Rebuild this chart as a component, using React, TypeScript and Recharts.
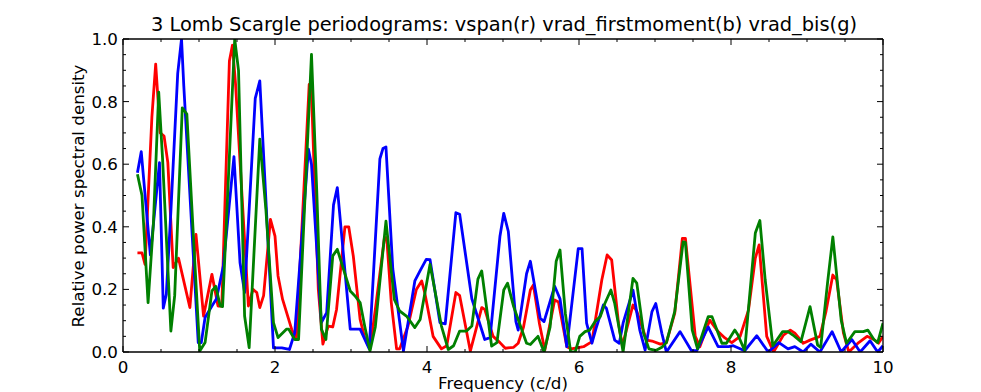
import React from 'react';
import { LineChart, Line, XAxis, YAxis } from 'recharts';

// frequency (c/d) / relative power
const redFreq = [
  0.19, 0.25, 0.29, 0.38, 0.43, 0.49, 0.54, 0.59, 0.66, 0.73, 0.88, 0.96, 1.06, 1.17, 1.25, 1.3, 1.4, 1.44, 1.48, 1.65,
  1.71, 1.76, 1.8, 1.85, 1.94, 2.0, 2.04, 2.1, 2.18, 2.22, 2.28, 2.45, 2.48, 2.57, 2.63, 2.7, 2.76, 2.81, 2.92, 2.97,
  3.03, 3.12, 3.18, 3.25, 3.32, 3.44, 3.47, 3.53, 3.6, 3.64, 3.75, 3.86, 3.93, 3.97, 4.08, 4.19, 4.26, 4.38, 4.43, 4.57,
  4.72, 4.76, 4.87, 4.96, 5.03, 5.14, 5.2, 5.27, 5.36, 5.4, 5.48, 5.55, 5.68, 5.73, 5.84, 5.9, 6.06, 6.17, 6.3, 6.37,
  6.43, 6.52, 6.57, 6.71, 6.76, 6.89, 6.96, 7.07, 7.15, 7.26, 7.36, 7.4, 7.53, 7.59, 7.72, 7.83, 7.92, 8.01, 8.12, 8.23,
  8.32, 8.37, 8.47, 8.56, 8.69, 8.78, 8.84, 8.95, 9.04, 9.17, 9.25, 9.34, 9.39, 9.48, 9.55, 9.68, 9.79, 9.88, 9.94, 10.0,
];
const redVals = [
  0.317, 0.317, 0.28, 0.75, 0.92, 0.7, 0.69, 0.605, 0.27, 0.3, 0.142, 0.376, 0.115, 0.248, 0.147, 0.147, 0.93, 0.98, 0.86, 0.147,
  0.2, 0.19, 0.142, 0.18, 0.424, 0.37, 0.243, 0.168, 0.104, 0.072, 0.04, 0.855, 0.83, 0.2, 0.025, 0.083, 0.08, 0.136, 0.4, 0.4,
  0.307, 0.104, 0.046, 0.01, 0.136, 0.365, 0.365, 0.158, 0.01, 0.01, 0.083, 0.2, 0.227, 0.19, 0.05, 0.01, 0.02, 0.19, 0.18, 0.003,
  0.142, 0.136, 0.05, 0.03, 0.012, 0.015, 0.028, 0.08, 0.198, 0.214, 0.09, 0.006, 0.166, 0.16, 0.017, 0.01, 0.017, 0.033, 0.23, 0.31,
  0.294, 0.092, 0.02, 0.15, 0.13, 0.038, 0.035, 0.025, 0.03, 0.124, 0.363, 0.363, 0.05, 0.017, 0.102, 0.065, 0.045, 0.03, 0.05, 0.134,
  0.3, 0.342, 0.05, 0.0, 0.054, 0.07, 0.06, 0.028, 0.038, 0.05, 0.13, 0.246, 0.23, 0.06, 0.0, 0.03, 0.05, 0.04, 0.028, 0.05,
];

const blueFreq = [
  0.19, 0.24, 0.36, 0.48, 0.53, 0.57, 0.63, 0.72, 0.77, 0.8, 0.99, 1.03, 1.08, 1.17, 1.23, 1.32, 1.46, 1.54, 1.6, 1.74,
  1.8, 1.98, 2.09, 2.19, 2.26, 2.44, 2.48, 2.61, 2.68, 2.77, 2.82, 2.99, 3.12, 3.24, 3.38, 3.42, 3.46, 3.55, 3.69, 3.84,
  3.91, 3.99, 4.04, 4.17, 4.24, 4.38, 4.43, 4.59, 4.76, 4.83, 4.96, 5.01, 5.07, 5.17, 5.2, 5.31, 5.36, 5.49, 5.54, 5.68,
  5.75, 5.84, 5.99, 6.04, 6.1, 6.17, 6.23, 6.32, 6.36, 6.47, 6.53, 6.58, 6.71, 6.8, 6.87, 6.96, 7.01, 7.09, 7.15, 7.33,
  7.48, 7.55, 7.7, 7.83, 7.97, 8.03, 8.18, 8.34, 8.49, 8.63, 8.75, 8.84, 8.95, 9.05, 9.17, 9.33, 9.45, 9.59, 9.7, 9.83,
  9.93, 10.0,
];
const blueVals = [
  0.573, 0.64, 0.31, 0.605, 0.14, 0.185, 0.45, 0.89, 1.0, 0.85, 0.03, 0.03, 0.11, 0.147, 0.17, 0.275, 0.624, 0.285, 0.19, 0.81,
  0.866, 0.013, 0.013, 0.008, 0.062, 0.648, 0.6, 0.094, 0.126, 0.47, 0.525, 0.073, 0.073, 0.01, 0.617, 0.65, 0.655, 0.265, 0.003, 0.227,
  0.26, 0.296, 0.295, 0.094, 0.09, 0.445, 0.44, 0.17, 0.04, 0.046, 0.37, 0.443, 0.385, 0.097, 0.07, 0.25, 0.29, 0.108, 0.097, 0.21,
  0.17, 0.017, 0.33, 0.33, 0.092, 0.028, 0.08, 0.15, 0.14, 0.038, 0.028, 0.092, 0.198, 0.07, 0.006, 0.129, 0.155, 0.06, 0.0, 0.065,
  0.004, 0.004, 0.08, 0.017, 0.017, 0.02, 0.004, 0.052, 0.0, 0.03, 0.01, 0.017, 0.0, 0.025, 0.0, 0.065, 0.0, 0.04, 0.0, 0.036,
  0.0, 0.02,
];

const greenFreq = [
  0.19, 0.25, 0.33, 0.4, 0.47, 0.52, 0.63, 0.68, 0.78, 0.84, 0.95, 1.01, 1.08, 1.17, 1.22, 1.28, 1.31, 1.47, 1.52, 1.6,
  1.66, 1.8, 1.88, 1.98, 2.04, 2.15, 2.18, 2.26, 2.31, 2.48, 2.55, 2.61, 2.67, 2.76, 2.82, 2.99, 3.05, 3.12, 3.18, 3.25,
  3.32, 3.46, 3.57, 3.64, 3.73, 3.84, 3.91, 4.04, 4.19, 4.28, 4.35, 4.43, 4.52, 4.59, 4.67, 4.72, 4.85, 4.92, 5.01, 5.06,
  5.14, 5.31, 5.36, 5.46, 5.54, 5.62, 5.7, 5.75, 5.82, 5.89, 5.95, 6.01, 6.08, 6.14, 6.21, 6.28, 6.34, 6.42, 6.47, 6.54,
  6.58, 6.71, 6.76, 6.85, 6.92, 7.01, 7.09, 7.15, 7.26, 7.37, 7.4, 7.49, 7.56, 7.7, 7.75, 7.88, 7.94, 8.05, 8.09, 8.18,
  8.32, 8.38, 8.45, 8.55, 8.68, 8.75, 8.81, 8.92, 9.04, 9.14, 9.18, 9.27, 9.34, 9.45, 9.52, 9.63, 9.74, 9.8, 9.88, 9.93,
  10.0,
];
const greenVals = [
  0.568, 0.5, 0.158, 0.41, 0.83, 0.62, 0.067, 0.18, 0.78, 0.76, 0.264, 0.003, 0.03, 0.195, 0.21, 0.147, 0.145, 1.0, 0.9, 0.115,
  0.014, 0.68, 0.456, 0.094, 0.046, 0.073, 0.073, 0.04, 0.04, 0.951, 0.51, 0.073, 0.04, 0.307, 0.328, 0.195, 0.18, 0.158, 0.083, 0.003,
  0.08, 0.418, 0.168, 0.131, 0.115, 0.078, 0.104, 0.28, 0.083, 0.008, 0.02, 0.067, 0.067, 0.083, 0.233, 0.259, 0.019, 0.03, 0.198, 0.22,
  0.145, 0.028, 0.024, 0.05, 0.0, 0.08, 0.29, 0.326, 0.124, 0.0, 0.0, 0.05, 0.065, 0.07, 0.097, 0.113, 0.155, 0.198, 0.155, 0.06,
  0.0, 0.235, 0.22, 0.06, 0.01, 0.005, 0.015, 0.03, 0.13, 0.352, 0.35, 0.07, 0.01, 0.113, 0.113, 0.028, 0.028, 0.07, 0.055, 0.005,
  0.38, 0.42, 0.23, 0.02, 0.065, 0.065, 0.055, 0.033, 0.145, 0.022, 0.015, 0.22, 0.368, 0.102, 0.028, 0.065, 0.065, 0.07, 0.04, 0.03,
  0.092,
];

const xTicks = [0, 0.5, 1, 1.5, 2, 2.5, 3, 3.5, 4, 4.5, 5, 5.5, 6, 6.5, 7, 7.5, 8, 8.5, 9, 9.5, 10];
const xLabels = [0, 2, 4, 6, 8, 10];
const yTicks = [
  0, 0.05, 0.1, 0.15, 0.2, 0.25, 0.3, 0.35, 0.4, 0.45, 0.5, 0.55, 0.6, 0.65, 0.7, 0.75, 0.8, 0.85, 0.9, 0.95, 1.0,
];
const yLabels = [0, 0.2, 0.4, 0.6, 0.8, 1.0];

const FONT = '"DejaVu Sans", sans-serif';
const FS = 16.7;

const toRows = (fs: number[], vs: number[]) => fs.map((f, i) => ({ f, v: vs[i] }));
const redData = toRows(redFreq, redVals);
const blueData = toRows(blueFreq, blueVals);
const greenData = toRows(greenFreq, greenVals);

const isLabel = (list: number[], v: number) => list.some((l) => Math.abs(l - v) < 1e-6);

const makeXTick = (side: 'bottom' | 'top') => (props: any) => {
  const { x, y, payload } = props;
  const major = isLabel(xLabels, payload.value);
  const len = major ? 6 : 3;
  const dir = side === 'bottom' ? -1 : 1;
  return (
    <g>
      <line x1={x} x2={x} y1={y} y2={y + dir * len} stroke="#000" strokeWidth={1} />
      {side === 'bottom' && major && (
        <text x={x} y={y + 21} textAnchor="middle" fontFamily={FONT} fontSize={FS} fill="#000">
          {payload.value}
        </text>
      )}
    </g>
  );
};

const makeYTick = (side: 'left' | 'right') => (props: any) => {
  const { x, y, payload } = props;
  const major = isLabel(yLabels, payload.value);
  const len = major ? 6 : 3;
  const dir = side === 'left' ? 1 : -1;
  return (
    <g>
      <line x1={x} x2={x + dir * len} y1={y} y2={y} stroke="#000" strokeWidth={1} />
      {side === 'left' && major && (
        <text x={x - 5} y={y} dy="0.36em" textAnchor="end" fontFamily={FONT} fontSize={FS} fill="#000">
          {payload.value.toFixed(1)}
        </text>
      )}
    </g>
  );
};

const axisLine = { stroke: '#000', strokeWidth: 1.3 };

export default function App() {
  return (
    <div style={{ position: 'fixed', left: 0, top: 0, width: 981, height: 392, background: '#fff' }}>
      <LineChart width={981} height={392} margin={{ top: 0, right: 0, bottom: 0, left: 0 }}>
        <XAxis
          xAxisId="b"
          type="number"
          dataKey="f"
          domain={[0, 10]}
          ticks={xTicks}
          interval={0}
          allowDataOverflow
          height={40}
          tickSize={0}
          tickMargin={0}
          tickLine={false}
          axisLine={axisLine}
          tick={makeXTick('bottom')}
        />
        <XAxis
          xAxisId="t"
          orientation="top"
          type="number"
          dataKey="f"
          domain={[0, 10]}
          ticks={xTicks}
          interval={0}
          allowDataOverflow
          height={39}
          tickSize={0}
          tickMargin={0}
          tickLine={false}
          axisLine={axisLine}
          tick={makeXTick('top')}
        />
        <YAxis
          yAxisId="l"
          type="number"
          domain={[0, 1]}
          ticks={yTicks}
          interval={0}
          allowDataOverflow
          width={123}
          tickSize={0}
          tickMargin={0}
          tickLine={false}
          axisLine={axisLine}
          tick={makeYTick('left')}
        />
        <YAxis
          yAxisId="r"
          orientation="right"
          type="number"
          domain={[0, 1]}
          ticks={yTicks}
          interval={0}
          allowDataOverflow
          width={98}
          tickSize={0}
          tickMargin={0}
          tickLine={false}
          axisLine={axisLine}
          tick={makeYTick('right')}
        />
        <Line data={redData} xAxisId="b" yAxisId="l" dataKey="v" type="linear" stroke="#ff0000" strokeWidth={2.8} dot={false} isAnimationActive={false} strokeLinejoin="round" />
        <Line data={blueData} xAxisId="b" yAxisId="l" dataKey="v" type="linear" stroke="#0000ff" strokeWidth={2.8} dot={false} isAnimationActive={false} strokeLinejoin="round" />
        <Line data={greenData} xAxisId="b" yAxisId="l" dataKey="v" type="linear" stroke="#008000" strokeWidth={2.8} dot={false} isAnimationActive={false} strokeLinejoin="round" />
      </LineChart>
      <svg width={981} height={392} style={{ position: 'absolute', left: 0, top: 0, pointerEvents: 'none' }}>
        <text x={504} y={31} textAnchor="middle" fontFamily={FONT} fontSize={19.4} fill="#000">
          3 Lomb Scargle periodograms: vspan(r) vrad_firstmoment(b) vrad_bis(g)
        </text>
        <text x={503} y={389} textAnchor="middle" fontFamily={FONT} fontSize={FS} fill="#000">
          Frequency (c/d)
        </text>
        <text x={84} y={196} transform="rotate(-90 84 196)" textAnchor="middle" fontFamily={FONT} fontSize={FS} fill="#000">
          Relative power spectral density
        </text>
      </svg>
    </div>
  );
}
